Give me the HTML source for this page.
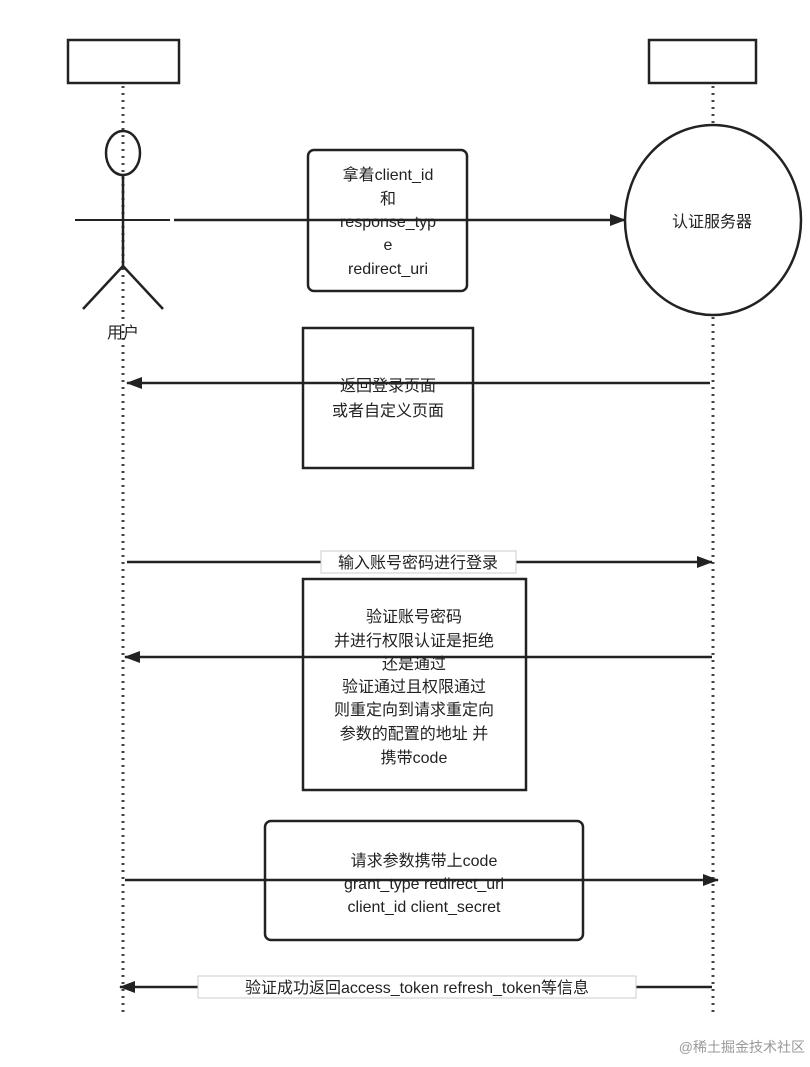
<!DOCTYPE html>
<html><head><meta charset="utf-8"><style>
body{margin:0;background:#fff;}
svg text{font-family:"Liberation Sans","Noto Sans CJK SC",sans-serif;fill:#222;font-size:16px;}
</style></head><body>
<svg width="810" height="1062" viewBox="0 0 810 1062" xmlns="http://www.w3.org/2000/svg">
<defs><marker id="a" markerWidth="16" markerHeight="12" refX="15" refY="6" orient="auto" markerUnits="userSpaceOnUse"><path d="M0,0 L16,6 L0,12 Z" fill="#222"/></marker></defs>
<g fill="none" stroke="#222" stroke-width="2.5">
<rect x="68" y="40" width="111" height="43" fill="#fff"/>
<rect x="649" y="40" width="107" height="43" fill="#fff"/>
</g>
<g stroke="#444" stroke-width="3" stroke-dasharray="2 5">
<line x1="123" y1="86" x2="123" y2="1015"/>
<line x1="713" y1="86" x2="713" y2="1015"/>
</g>
<g fill="none" stroke="#222" stroke-width="2.5">
<ellipse cx="123" cy="153" rx="17" ry="22"/>
<line x1="123" y1="175" x2="123" y2="266"/>
<line x1="75" y1="220" x2="170" y2="220" stroke-width="2"/>
<line x1="123" y1="266" x2="83" y2="309"/>
<line x1="123" y1="266" x2="163" y2="309"/>
<ellipse cx="713" cy="220" rx="88" ry="95" fill="#fff"/>
<line x1="174" y1="220" x2="625" y2="220" marker-end="url(#a)"/>
<rect x="308" y="150" width="159" height="141" rx="6" fill="#fff" fill-opacity="0"/>
<rect x="303" y="328" width="170" height="140" fill="#fff"/>
<line x1="710" y1="383" x2="127" y2="383" marker-end="url(#a)"/>
<line x1="127" y1="562" x2="712" y2="562" marker-end="url(#a)"/>
<rect x="303" y="579" width="223" height="211" fill="#fff"/>
<line x1="712" y1="657" x2="125" y2="657" marker-end="url(#a)"/>
<rect x="265" y="821" width="318" height="119" rx="6" fill="#fff"/>
<line x1="125" y1="880" x2="718" y2="880" marker-end="url(#a)"/>
<line x1="712" y1="987" x2="120" y2="987" marker-end="url(#a)"/>
</g>
<text x="123" y="338" text-anchor="middle">用户</text>
<text x="712" y="227" text-anchor="middle">认证服务器</text>
<g text-anchor="middle">
<text x="388" y="180">拿着client_id</text>
<text x="388" y="204">和</text>
<text x="388" y="227">response_typ</text>
<text x="388" y="250">e</text>
<text x="388" y="274">redirect_uri</text>
<text x="388" y="391">返回登录页面</text>
<text x="388" y="416">或者自定义页面</text>
</g>
<rect x="321" y="551" width="195" height="22" fill="#fff" stroke="#ccc"/>
<text x="418" y="568" text-anchor="middle">输入账号密码进行登录</text>
<g text-anchor="middle">
<text x="414" y="622">验证账号密码</text>
<text x="414" y="646">并进行权限认证是拒绝</text>
<text x="414" y="669">还是通过</text>
<text x="414" y="692">验证通过且权限通过</text>
<text x="414" y="715">则重定向到请求重定向</text>
<text x="414" y="739">参数的配置的地址 并</text>
<text x="414" y="763">携带code</text>
<text x="424" y="866">请求参数携带上code</text>
<text x="424" y="889">grant_type  redirect_uri</text>
<text x="424" y="912">client_id  client_secret</text>
</g>
<rect x="198" y="976" width="438" height="22" fill="#fff" stroke="#ccc"/>
<text x="417" y="993" text-anchor="middle">验证成功返回access_token refresh_token等信息</text>
<text x="805" y="1052" text-anchor="end" style="font-size:14px;fill:#999">@稀土掘金技术社区</text>
</svg>
</body></html>
